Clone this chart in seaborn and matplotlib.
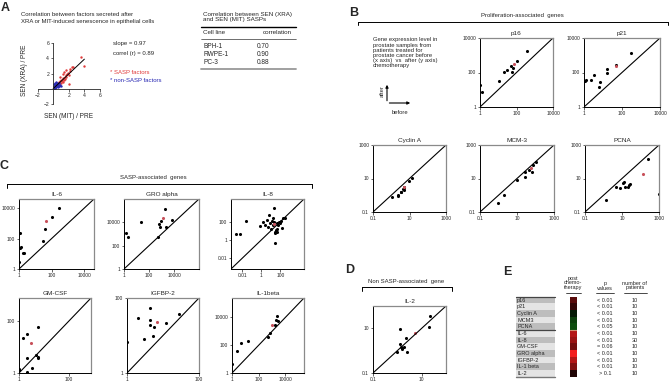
import numpy as np
import matplotlib
matplotlib.use('Agg')
import matplotlib.pyplot as plt
from matplotlib.patches import Rectangle
from matplotlib.colors import LinearSegmentedColormap
from matplotlib.ticker import NullLocator
import seaborn as sns

# ---- panel A: SEN / PRE ratios of secreted factors
sasp_mit = [0.3, 0.4, 0.5, 0.6, 0.7, 0.8, 0.8, 0.9, 1.0, 1.0, 1.1, 1.2, 1.2, 1.3, 1.4, 1.5, 1.5,
            1.6, 1.7, 1.8, 1.9, 2.0, 2.1, 2.2, 1.2, 0.9, 1.6, 2.4, 3.6, 3.9, 2.0, 2.6, 1.4]
sasp_xra = [0.2, 0.5, 0.3, 0.7, 0.5, 0.9, 0.6, 1.0, 0.8, 1.2, 1.0, 1.3, 0.9, 1.4, 1.2, 1.6, 1.3,
            1.8, 1.5, 1.9, 2.1, 1.8, 2.3, 2.6, 2.0, 1.5, 2.4, 2.8, 4.1, 3.0, 0.6, 2.9, 2.2]
nonsasp_mit = [0.05, 0.1, 0.15, 0.2, 0.25, 0.3, 0.35, 0.4, 0.45, 0.5, 0.55, 0.6, 0.65, 0.7,
               0.75, 0.8, 0.2, 0.3, 0.1, 0.4, 0.5, 0.6, 0.9, 1.0, 0.15]
nonsasp_xra = [0.1, 0.3, 0.2, 0.5, 0.35, 0.7, 0.4, 0.9, 0.6, 0.4, 0.8, 0.5, 0.3, 0.7,
               0.4, 0.3, 0.1, 0.15, 0.05, 0.2, 0.6, 0.2, 0.5, 0.4, 0.6]
fit_slope = 0.97
fit_x = [0, 4]
cell_lines = ['BPH-1', 'RWPE-1', 'PC-3']
cell_corr = ['0.70', '0.90', '0.88']

# ---- panels B-D: expression before (x) vs after (y) chemotherapy
p16_before = [1.0, 1.23, 11, 22, 32, 49, 54, 66, 110, 400]
p16_after = [18.6, 7.5, 32, 107, 134, 240, 112, 175, 470, 1820]
p16_red = [75, 316]
p21_before = [1.07, 1.3, 2.2, 3.4, 5.8, 7, 16, 17, 50, 300]
p21_after = [32, 35, 35, 74, 14, 30, 96, 170, 275, 1350]
p21_red = [48, 250]
cyca_before = [1.05, 2.4, 2.4, 3.3, 3.6, 4.5, 4.8, 5.0, 4.7, 9.8, 14]
cyca_after = [0.8, 1.1, 0.93, 1.6, 1.6, 2.5, 3.0, 2.8, 2.2, 7.4, 10.2]
cyca_red = [4.8, 3.3]
mcm3_before = [0.98, 2.1, 9.6, 27, 27, 45, 67, 76, 107]
mcm3_after = [0.34, 1.0, 7.6, 13, 24, 31, 26, 65, 100]
mcm3_red = [57, 41]
pcna_before = [1.35, 5, 7.6, 11.5, 13, 14, 21, 23, 26, 250, 1000]
pcna_after = [0.52, 3.3, 2.7, 5.2, 6.6, 3.1, 3.3, 4.2, 4.6, 148, 1.2]
pcna_red = [137, 18]
il6_before = [1, 1.2, 1.3, 1.2, 1.7, 1.9, 31, 40, 110, 270]
il6_after = [3, 224, 29, 25, 11, 11, 70, 427, 2750, 9800]
il6_red = [46, 1450]
gro_before = [1.4, 2.2, 21, 560, 630, 700, 910, 1900, 2300, 7400]
gro_after = [1120, 575, 9800, 575, 6600, 4000, 12600, 135000, 4150, 14500]
gro_red = [1400, 21500]
il8_before = [0.002, 0.0056, 0.022, 21, 27, 0.71, 1.6, 2.4, 3.6, 5.4, 6.8, 8, 9.5, 12, 15.5,
              18, 21, 27, 29, 35, 41, 47, 60, 76, 91, 107, 138, 200, 300, 41]
il8_after = [4.5, 4.5, 117, 2950, 0.42, 36, 85, 44, 150, 28, 540, 66, 16, 117, 234,
             44, 85, 8, 6.2, 12, 8, 14, 44, 85, 66, 117, 19, 234, 275, 66]
il8_red = [23, 50]
gmcsf_before = [1.4, 2.1, 2.1, 2.2, 1, 1, 3.5, 4.8, 5.6, 6.1, 5.8]
gmcsf_after = [23, 31, 3.9, 1.07, 1.4, 1.3, 1.6, 4.9, 4.2, 3.7, 60]
gmcsf_red = [3, 15]
igfbp_before = [1.0, 2.0, 3.0, 4.4, 4.4, 4.4, 5.4, 5.6, 12, 27]
igfbp_after = [6.6, 30, 7.9, 53, 26, 19, 9.7, 17, 22, 37]
igfbp_red = [6.9, 23]
il1b_before = [1, 2.5, 4.4, 16, 490, 740, 1800, 2000, 2300, 2700]
il1b_after = [4.6, 38, 140, 210, 410, 740, 2700, 6300, 12500, 5300]
il1b_red = [1030, 2700]
il2_before = [0.95, 1.3, 1.3, 1.4, 1.5, 1.6, 1.9, 2.3, 2.4, 21, 20]
il2_after = [0.91, 9.1, 2.0, 1.4, 1.15, 1.27, 1.5, 3.8, 0.91, 36, 11]
il2_red = [5.4, 6.5]

# ---- panel E
e_genes = ['p16', 'p21', 'Cyclin A', 'MCM3', 'PCNA', 'IL-6', 'IL-8', 'GM-CSF',
           'GRO alpha', 'IGFBP-2', 'IL-1 beta', 'IL-2']
e_change = [0.35, 0.2, -0.1, -0.25, -0.3, 0.7, 0.6, 0.45, 0.95, 0.7, 0.5, 0.12]
e_pvals = ['< 0.01', '< 0.01', '< 0.01', '< 0.01', '< 0.05', '< 0.01', '< 0.01',
           '= 0.06', '< 0.01', '< 0.01', '< 0.01', '> 0.1']
e_npat = ['10', '10', '10', '10', '10', '10', '30', '10', '10', '10', '10', '10']

sns.set_theme(style='ticks')
plt.rcParams['font.family'] = ['Liberation Sans', 'DejaVu Sans']

W, H = 669, 382
fig = plt.figure(figsize=(W / 100, H / 100), dpi=100)
ov = fig.add_axes([0, 0, 1, 1])
ov.set_xlim(0, W)
ov.set_ylim(H, 0)
ov.axis('off')


def place(x0, y0, x1, y1):
    return fig.add_axes([x0 / W, 1 - y1 / H, (x1 - x0) / W, (y1 - y0) / H])


def txt(x, y, s, size=4.3, **kw):
    kw.setdefault('va', 'center')
    ov.text(x, y, s, fontsize=size, **kw)


def bracket(x0, x1, y, label, lx, ly):
    ov.plot([x0, x1], [y, y], color='black', lw=0.7)
    ov.plot([x0, x0], [y, y + 3.5], color='black', lw=0.7)
    ov.plot([x1, x1], [y, y + 3.5], color='black', lw=0.7)
    txt(lx, ly, label, ha='center')


# panel letters
for letter, (lx, ly) in {'A': (1, 8), 'B': (349, 13), 'C': (0, 166),
                         'D': (345, 270), 'E': (503, 272)}.items():
    txt(lx, ly, letter, size=9, weight='bold')

# ---- A
txt(21, 15, 'Correlation between factors secreted after')
txt(21, 21, 'XRA or MIT-induced senescence in epithelial cells')
axA = place(37.5, 43, 100, 104)
sns.scatterplot(x=sasp_mit, y=sasp_xra, color='#e03c3c', s=3, linewidth=0, ax=axA)
sns.scatterplot(x=nonsasp_mit, y=nonsasp_xra, color='#2a2ab4', s=3, linewidth=0, ax=axA)
fx = np.array(fit_x)
axA.plot(fx, fit_slope * fx, color='black', lw=0.7)
axA.set_xlim(-2, 6)
axA.set_ylim(-2, 6)
axA.spines['left'].set_position(('data', 0))
axA.spines['bottom'].set_position(('data', 0))
axA.spines['top'].set_visible(False)
axA.spines['right'].set_visible(False)
for sp in ('left', 'bottom'):
    axA.spines[sp].set_linewidth(0.6)
axA.set_xticks([-2, 2, 4, 6])
axA.set_yticks([-2, 2, 4, 6])
axA.tick_params(labelsize=3.6, length=1.8, width=0.5, pad=1)
axA.patch.set_alpha(0)
txt(24, 70, 'SEN (XRA) / PRE', size=4.7, rotation=90, ha='center')
txt(68, 117, 'SEN (MIT) / PRE', size=4.7, ha='center')
txt(113, 44, 'slope = 0.97')
txt(113, 53, 'correl (r) = 0.89')
txt(110, 72, '* SASP factors', color='#e03c3c')
txt(110, 80, '* non-SASP factors', color='#2a2ab4')

txt(203, 12, 'Correlation between SEN (XRA)\nand SEN (MIT) SASPs', size=4.5, va='top', linespacing=0.95)
ov.plot([201, 296], [27, 27], color='black', lw=1.0)
txt(203, 33, 'Cell line', size=4.5)
txt(277, 33, 'correlation', size=4.5, ha='center')
ov.plot([201, 296], [38.5, 38.5], color='black', lw=0.4)
for i, (cl, cv) in enumerate(zip(cell_lines, cell_corr)):
    txt(203, 47 + i * 7.5, cl, size=4.7)
    txt(263, 47 + i * 7.5, cv, size=4.7, ha='center')
ov.plot([201, 296], [69, 69], color='#999999', lw=1.3)

# ---- B legend
bracket(358, 668, 21.5, 'Proliferation-associated  genes', 522, 15)
b_lines = ['Gene expression level in', 'prostate samples from', 'patients treated for',
           'prostate cancer before', '(x axis)  vs  after (y axis)', 'chemotherapy']
for i, line in enumerate(b_lines):
    txt(373, 40 + i * 5.2, line, size=4.2)
ov.annotate('', xy=(387, 82), xytext=(387, 103.5),
            arrowprops=dict(arrowstyle='-|>', lw=0.8, color='black', mutation_scale=4))
ov.annotate('', xy=(413, 103), xytext=(386.6, 103),
            arrowprops=dict(arrowstyle='-|>', lw=0.8, color='black', mutation_scale=4))
txt(382, 91, 'after', size=4.2, rotation=90, ha='center')
txt(400, 113, 'before', size=4.2, ha='center')

bracket(7, 312, 184, 'SASP-associated  genes', 153, 178)
bracket(362, 452, 287, 'Non SASP-associated  gene', 406, 282)


def gene_panel(name, before, after, red, box, lim, ticks, labels):
    ax = place(*box)
    sns.scatterplot(x=before, y=after, ax=ax, color='black', s=5, linewidth=0, legend=False)
    sns.scatterplot(x=[red[0]], y=[red[1]], ax=ax, color='#c8505a', s=5, linewidth=0, legend=False)
    ax.set_xscale('log')
    ax.set_yscale('log')
    ax.set_xlim(lim)
    ax.set_ylim(lim)
    ax.plot(lim, lim, color='black', lw=0.8)
    ax.set_xticks(ticks)
    ax.set_xticklabels(labels)
    ax.set_yticks(ticks)
    ax.set_yticklabels(labels)
    ax.xaxis.set_minor_locator(NullLocator())
    ax.yaxis.set_minor_locator(NullLocator())
    ax.tick_params(labelsize=3.5, length=1.8, width=0.5, pad=1)
    for sp in ('left', 'bottom'):
        ax.spines[sp].set_linewidth(0.7)
        ax.spines[sp].set_color('black')
    for sp in ('top', 'right'):
        ax.spines[sp].set_linewidth(0.9)
        ax.spines[sp].set_color('#8a8a8a')
    ax.set_title(name, fontsize=4.6, pad=2.5)
    return ax


t4 = ([1, 100, 10000], ['1', '100', '10000'])
t3 = ([0.1, 10, 1000], ['0.1', '10', '1000'])
panels = [
    ('p16', p16_before, p16_after, p16_red, (480, 38, 553, 107), (1, 1e4), t4),
    ('p21', p21_before, p21_after, p21_red, (584, 38, 660, 107), (1, 1e4), t4),
    ('Cyclin A', cyca_before, cyca_after, cyca_red, (373, 145, 446, 212), (0.1, 1000), t3),
    ('MCM-3', mcm3_before, mcm3_after, mcm3_red, (480, 145, 554, 212), (0.1, 1000), t3),
    ('PCNA', pcna_before, pcna_after, pcna_red, (585, 145, 659, 212), (0.1, 1000), t3),
    ('IL-6', il6_before, il6_after, il6_red, (19, 199, 94, 269), (1, 4e4), t4),
    ('GRO alpha', gro_before, gro_after, gro_red, (124, 199, 199, 269), (1, 1e6), t4),
    ('IL-8', il8_before, il8_after, il8_red, (231, 199, 304, 269), (10 ** -3.2, 10 ** 4.5),
     ([0.01, 1, 100], ['0.01', '1', '100'])),
    ('GM-CSF', gmcsf_before, gmcsf_after, gmcsf_red, (19, 298, 91, 373), (1, 800),
     ([1, 100], ['1', '100'])),
    ('IGFBP-2', igfbp_before, igfbp_after, igfbp_red, (127, 298, 199, 373), (1, 100),
     ([1, 100], ['1', '100'])),
    ('IL-1beta', il1b_before, il1b_after, il1b_red, (232, 298, 304, 373), (1, 2.5e5), t4),
    ('IL-2', il2_before, il2_after, il2_red, (373, 306, 446, 373), (0.1, 100),
     ([0.1, 10], ['0.1', '10'])),
]
for name, bx, by, rd, box, lim, (tk, tl) in panels:
    gene_panel(name, bx, by, rd, box, lim, tk, tl)

# ---- E
top, pitch = 296.7, 6.67
for i, g in enumerate(e_genes):
    yc = top + (i + 0.5) * pitch
    ov.add_patch(Rectangle((516, top + i * pitch), 39, pitch,
                           color='#bdbdbd' if i % 2 == 0 else '#e4e4e4', lw=0))
    txt(517, yc, g, size=4)
    txt(605, yc, e_pvals[i], size=4, ha='center')
    txt(635, yc, e_npat[i], size=4, ha='center')
ov.plot([516, 555], [top, top], color='#444444', lw=0.9)
ov.plot([516, 555], [top + 5 * pitch, top + 5 * pitch], color='#444444', lw=0.9)
ov.plot([516, 555], [top + 12 * pitch, top + 12 * pitch], color='#777777', lw=1.0)

txt(573, 290, 'post\nchemo-\ntherapy', size=4, ha='center', va='bottom', linespacing=0.9)
txt(605, 290.5, 'p\nvalues', size=4, ha='center', va='bottom', linespacing=0.9)
txt(635, 290.5, 'number of\npatients', size=4, ha='center', va='bottom', linespacing=0.9)
ov.plot([566, 581], [292.5, 292.5], color='black', lw=0.5)
ov.plot([596, 614], [292.5, 292.5], color='black', lw=0.5)
ov.plot([624, 647], [292.5, 292.5], color='black', lw=0.5)

hax = place(570, top, 577, top + 12 * pitch)
gr = LinearSegmentedColormap.from_list('gr', ['#30ff30', '#000000', '#ff2020'])
sns.heatmap(np.array(e_change).reshape(-1, 1), ax=hax, cmap=gr, vmin=-1, vmax=1,
            cbar=False, xticklabels=False, yticklabels=False)
hax.axhline(5, color='#d09070', lw=0.8)

fig.savefig('out.png', dpi=100)
